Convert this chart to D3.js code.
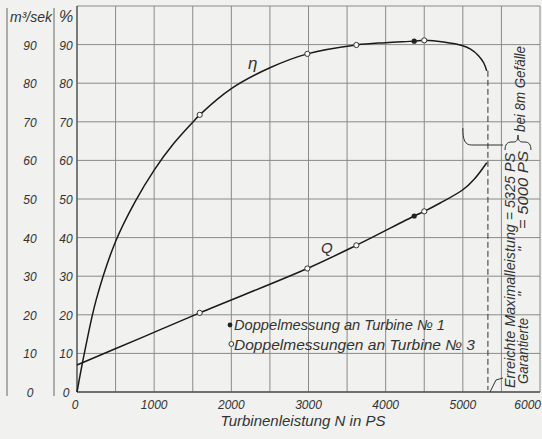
<!DOCTYPE html>
<html>
<head>
<meta charset="utf-8">
<script src="https://cdn.jsdelivr.net/npm/d3@7"></script>
<style>
  body { margin: 0; background: #f1f1ef; }
  text { font-family: 'Liberation Sans', sans-serif; font-style: italic; fill: #333; }
</style>
</head>
<body>
<script>
const etaN = [0, 100, 250, 500, 750, 1000, 1250, 1500, 1590, 2000, 2500, 2985, 3620, 4000, 4370, 4500, 4750, 5000, 5100, 5200, 5270, 5310];
const etaV = [0, 10.5, 24, 39, 49.2, 57.5, 64.3, 69.9, 71.8, 78.6, 84, 87.6, 89.9, 90.5, 90.9, 91.1, 90.7, 89.7, 88.8, 87.2, 85.3, 83.2];

const qN = [0, 816, 1590, 2985, 3620, 4370, 4500, 4700, 5000, 5150, 5310];
const qV = [7, 13.9, 20.5, 32.0, 38.0, 45.6, 46.8, 48.9, 52.4, 55.2, 59.4];

const openN = [1590, 2985, 3620, 4500];
const openEta = [71.8, 87.6, 89.9, 91.1];
const openQ = [20.5, 32.0, 38.0, 46.8];
const filledN = [4370];
const filledEta = [90.9];
const filledQ = [45.6];

const xTicks = [0, 1000, 2000, 3000, 4000, 5000, 6000];
const yTicks = [0, 10, 20, 30, 40, 50, 60, 70, 80, 90];
const maxN = 5325;
const guarN = 5000;

const width = 542, height = 439;

const svg = d3.select('body').append('svg')
  .attr('width', width)
  .attr('height', height);

const x = d3.scaleLinear().domain([0, 6000]).range([77, 540]);
const y = d3.scaleLinear().domain([0, 100]).range([392, 6]);

// grid
svg.append('g')
  .selectAll('line')
  .data(d3.range(0, 6001, 500))
  .enter()
  .append('line')
  .attr('x1', d => x(d)).attr('x2', d => x(d))
  .attr('y1', y(100)).attr('y2', y(0))
  .attr('stroke', '#8a8a8a')
  .attr('stroke-width', 1);

svg.append('g')
  .selectAll('line')
  .data(d3.range(0, 101, 10))
  .enter()
  .append('line')
  .attr('x1', x(0)).attr('x2', x(6000))
  .attr('y1', d => y(d)).attr('y2', d => y(d))
  .attr('stroke', '#8a8a8a')
  .attr('stroke-width', 1);

svg.append('line')
  .attr('x1', x(0)).attr('x2', x(0)).attr('y1', y(100)).attr('y2', y(0))
  .attr('stroke', '#555').attr('stroke-width', 1.3);
svg.append('line')
  .attr('x1', x(0)).attr('x2', x(6000)).attr('y1', y(0)).attr('y2', y(0))
  .attr('stroke', '#555').attr('stroke-width', 1.3);

// left scale columns
[7, 54].forEach(px => {
  svg.append('line')
    .attr('x1', px).attr('x2', px).attr('y1', 8).attr('y2', 396)
    .attr('stroke', '#666').attr('stroke-width', 1);
});

svg.append('text').attr('x', 10).attr('y', 22)
  .attr('textLength', 42).attr('lengthAdjust', 'spacingAndGlyphs')
  .style('font-size', '15px').text('m³/sek');
svg.append('text').attr('x', 66).attr('y', 22).attr('text-anchor', 'middle')
  .style('font-size', '16px').text('%');

svg.append('g').selectAll('text')
  .data(yTicks).enter().append('text')
  .attr('x', 30).attr('y', d => y(d) + 5)
  .attr('text-anchor', 'middle')
  .style('font-size', '12px')
  .text(d => d);

svg.append('g').selectAll('text')
  .data(yTicks).enter().append('text')
  .attr('x', 66).attr('y', d => y(d) + 5)
  .attr('text-anchor', 'middle')
  .style('font-size', '12px')
  .text(d => d);

svg.append('g').selectAll('text')
  .data(xTicks).enter().append('text')
  .attr('x', d => (d === 0 ? x(d) - 2 : d === 6000 ? width - 1 : x(d)))
  .attr('y', 409)
  .attr('text-anchor', d => (d === 6000 ? 'end' : 'middle'))
  .style('font-size', '12px')
  .text(d => d);

svg.append('text').attr('x', 303).attr('y', 426).attr('text-anchor', 'middle')
  .style('font-size', '15px').text('Turbinenleistung N in PS');

// curves
const line = d3.line()
  .x(d => x(d[0]))
  .y(d => y(d[1]))
  .curve(d3.curveCatmullRom.alpha(0.5));

svg.append('path')
  .datum(etaN.map((n, i) => [n, etaV[i]]))
  .attr('d', line)
  .attr('fill', 'none').attr('stroke', '#1a1a1a').attr('stroke-width', 1.5);

svg.append('path')
  .datum(qN.map((n, i) => [n, qV[i]]))
  .attr('d', line)
  .attr('fill', 'none').attr('stroke', '#1a1a1a').attr('stroke-width', 1.5);

svg.append('line')
  .attr('x1', x(maxN)).attr('x2', x(maxN))
  .attr('y1', y(etaV[etaV.length - 1])).attr('y2', y(0) - 2)
  .attr('stroke', '#333').attr('stroke-width', 1)
  .attr('stroke-dasharray', '6,3');

// markers
const openPts = openN.map((n, i) => [n, openEta[i]]).concat(openN.map((n, i) => [n, openQ[i]]));
const filledPts = filledN.map((n, i) => [n, filledEta[i]]).concat(filledN.map((n, i) => [n, filledQ[i]]));

svg.append('g').selectAll('circle')
  .data(openPts).enter().append('circle')
  .attr('cx', d => x(d[0])).attr('cy', d => y(d[1])).attr('r', 2.6)
  .attr('fill', '#f8f8f6').attr('stroke', '#333').attr('stroke-width', 1);

svg.append('g').selectAll('circle')
  .data(filledPts).enter().append('circle')
  .attr('cx', d => x(d[0])).attr('cy', d => y(d[1])).attr('r', 2.6)
  .attr('fill', '#222');

svg.append('text').attr('x', 248).attr('y', 69).style('font-size', '17px').text('η');
svg.append('text').attr('x', 321).attr('y', 253).style('font-size', '15px').text('Q');

// legend
svg.append('circle').attr('cx', 230).attr('cy', 325).attr('r', 2.4).attr('fill', '#222');
svg.append('text').attr('x', 234).attr('y', 330)
  .attr('textLength', 211).attr('lengthAdjust', 'spacingAndGlyphs')
  .style('font-size', '14.5px')
  .text('Doppelmessung an Turbine № 1');
svg.append('circle').attr('cx', x(2000)).attr('cy', 344).attr('r', 2.4)
  .attr('fill', '#f8f8f6').attr('stroke', '#333');
svg.append('text').attr('x', 234).attr('y', 350)
  .attr('textLength', 241).attr('lengthAdjust', 'spacingAndGlyphs')
  .style('font-size', '14.5px')
  .text('Doppelmessungen an Turbine № 3');

// right annotation
const vtext = (tx, ty, str, len) => {
  const t = svg.append('text')
    .attr('transform', `translate(${tx},${ty}) rotate(-90)`)
    .style('font-size', '14.5px')
    .text(str);
  if (len) t.attr('textLength', len).attr('lengthAdjust', 'spacingAndGlyphs');
  return t;
};

vtext(515, 388, 'Erreichte Maximalleistung = 5325 PS', 235);
vtext(528, 384, 'Garantierte', 66);
vtext(528, 297, '"');
vtext(528, 252, '"');
vtext(528, 229, '= 5000 PS', 78);
vtext(525, 132, 'bei 8m Gefälle', 86);

svg.append('path')
  .attr('d', `M${x(guarN)},128 C${x(guarN)},140 ${x(guarN) + 2},145 ${x(guarN) + 9},145 L503,145`)
  .attr('fill', 'none').attr('stroke', '#333').attr('stroke-width', 1);
svg.append('path')
  .attr('d', 'M505,150 Q505,142 511,142 L514,142 Q518,142 518,135 Q518,142 522,142 L525,142 Q531,142 531,150')
  .attr('fill', 'none').attr('stroke', '#333').attr('stroke-width', 1);
svg.append('path')
  .attr('d', 'M490,392 L496,380 L503,378')
  .attr('fill', 'none').attr('stroke', '#333').attr('stroke-width', 1);
</script>
</body>
</html>
